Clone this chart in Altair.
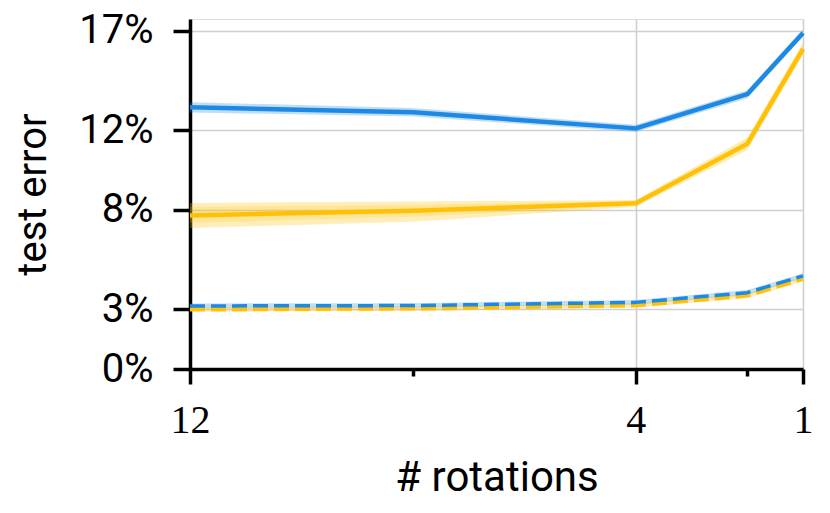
import altair as alt
import pandas as pd

# x values (# rotations) and series values (test error, %)
rotations = [12, 8, 4, 2, 1]

blue_solid = [13.16, 12.91, 12.10, 13.82, 16.90]
blue_solid_lo = [12.90, 12.70, 11.92, 13.62, 16.72]
blue_solid_hi = [13.42, 13.12, 12.28, 14.02, 17.08]

yellow_solid = [7.72, 7.96, 8.33, 11.32, 16.10]
yellow_solid_lo = [7.09, 7.41, 8.16, 11.00, 15.78]
yellow_solid_hi = [8.35, 8.42, 8.50, 11.64, 16.42]
yellow_solid_lo2 = [7.35, 7.65, 8.22, 11.15, 15.95]
yellow_solid_hi2 = [8.15, 8.25, 8.44, 11.50, 16.25]

blue_dashed = [3.17, 3.19, 3.35, 3.84, 4.68]
blue_dashed_lo = [3.04, 3.07, 3.23, 3.71, 4.55]
blue_dashed_hi = [3.30, 3.31, 3.47, 3.97, 4.81]

yellow_dashed = [3.00, 3.04, 3.20, 3.69, 4.53]
yellow_dashed_lo = [2.87, 2.92, 3.08, 3.56, 4.40]
yellow_dashed_hi = [3.13, 3.16, 3.32, 3.82, 4.66]

x_all_ticks = [12, 8, 4, 2, 1]
y_ticks = [0, 3, 8, 12, 17]

BLUE = "#1E88E5"
YELLOW = "#FFC107"

rows = []
def add(name, ys, lo, hi, lo2=None, hi2=None):
    for i, xv in enumerate(rotations):
        rows.append({
            "series": name, "rot": xv, "err": ys[i],
            "lo": lo[i], "hi": hi[i],
            "lo2": (lo2 or lo)[i], "hi2": (hi2 or hi)[i],
        })

add("blue solid", blue_solid, blue_solid_lo, blue_solid_hi)
add("yellow solid", yellow_solid, yellow_solid_lo, yellow_solid_hi, yellow_solid_lo2, yellow_solid_hi2)
add("blue dashed", blue_dashed, blue_dashed_lo, blue_dashed_hi)
add("yellow dashed", yellow_dashed, yellow_dashed_lo, yellow_dashed_hi)
df = pd.DataFrame(rows)

xscale = alt.Scale(domain=[12, 1], nice=False, zero=False)
yscale = alt.Scale(domain=[0, 17.6], nice=False, zero=False)

minor_test = "datum.value == 8 || datum.value == 2"

x_axis = alt.Axis(
    values=x_all_ticks,
    title="# rotations",
    labelExpr="(datum.value == 12 || datum.value == 4 || datum.value == 1) ? format(datum.value, 'd') : ''",
    labelFont="Liberation Serif", labelFontSize=40, labelColor="black",
    labelPadding=16,
    tickSize={"condition": {"test": minor_test, "value": 7}, "value": 15},
    tickWidth=3.5, tickColor="black",
    domainWidth=3.5, domainColor="black",
    grid=True, gridColor="#d0d0d0", gridWidth=1.6,
    gridOpacity={"condition": {"test": minor_test, "value": 0}, "value": 1},
    titleFont="Roboto", titleFontSize=42, titleFontWeight="normal", titleColor="black",
    titleBaseline="alphabetic", titleY=121,
    labelFlush=False, labelOverlap=False,
)

y_axis = alt.Axis(
    values=y_ticks,
    title="test error",
    labelExpr="format(datum.value, 'd') + '%'",
    labelFont="Roboto", labelFontSize=40, labelColor="black",
    labelPadding=20,
    tickSize=17, tickWidth=3.5, tickColor="black",
    domainWidth=3.5, domainColor="black",
    grid=True, gridColor="#d0d0d0", gridWidth=1.6,
    titleFont="Roboto", titleFontSize=40, titleFontWeight="normal", titleColor="black",
    titleAngle=270, titleBaseline="alphabetic", titleAlign="center",
    titleX=-145, titleY=175,
    labelFlush=False, labelOverlap=False,
)

base = alt.Chart(df)

def sel(name):
    return alt.datum.series == name

band_outer = base.mark_area(opacity=0.28).encode(
    x=alt.X("rot:Q", scale=xscale, axis=x_axis),
    y=alt.Y("lo:Q", scale=yscale, axis=y_axis),
    y2="hi:Q",
    color=alt.Color("series:N", legend=None, scale=alt.Scale(
        domain=["blue solid", "yellow solid", "blue dashed", "yellow dashed"],
        range=[BLUE, YELLOW, BLUE, YELLOW])),
    detail="series:N",
)
band_inner = base.transform_filter(sel("yellow solid")).mark_area(opacity=0.2, color=YELLOW).encode(
    x=alt.X("rot:Q", scale=xscale), y=alt.Y("lo2:Q", scale=yscale), y2="hi2:Q"
)

def line(name, color, dashed, width):
    kw = dict(color=color, strokeWidth=width, strokeCap="butt", strokeJoin="round")
    if dashed:
        kw["strokeDash"] = [15, 6]
    return base.transform_filter(sel(name)).mark_line(**kw).encode(
        x=alt.X("rot:Q", scale=xscale), y=alt.Y("err:Q", scale=yscale)
    )

chart = alt.layer(
    band_outer,
    band_inner,
    line("yellow solid", YELLOW, False, 4.5),
    line("blue solid", BLUE, False, 4.5),
    line("yellow dashed", YELLOW, True, 4),
    line("blue dashed", BLUE, True, 3.5),
).properties(
    width=613, height=350,
    autosize="none",
    padding={"left": 182, "top": 11, "right": 15, "bottom": 135},
).configure_view(stroke=None).configure(background="white")

chart.save("out.html", embed_options={"renderer": "svg", "actions": False})
